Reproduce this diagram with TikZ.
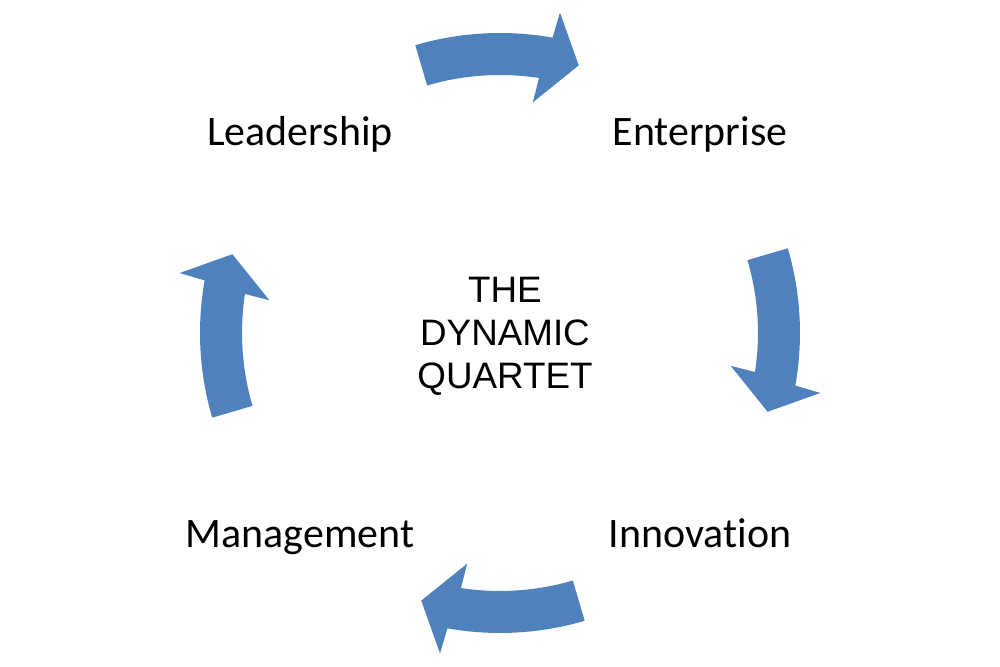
\documentclass[tikz,border=0pt]{standalone}
\usepackage{fontspec}
\setmainfont{Carlito}[Ligatures=NoCommon]
\newfontfamily\arialfont{Liberation Sans}
\usetikzlibrary{positioning}
\definecolor{quartetBlue}{HTML}{4F81BD}

\begin{document}
\begin{tikzpicture}[x=0.015cm,y=0.015cm,
  stagelabel/.style={anchor=base,font=\fontsize{17.9}{21}\selectfont}]
\useasboundingbox (-500,-334) rectangle (500,333);
\newcommand{\cyclearrow}[1]{%
  \fill[quartetBlue] (#1+16.4:300) arc[start angle=#1+16.4,end angle=#1-10.1,radius=300]
    -- (#1-10.6:326) -- (#1-16.4:279) -- (#1-8.1:233) -- (#1-8.7:258)
    arc[start angle=#1-8.7,end angle=#1+16.4,radius=258] -- cycle;
}
\cyclearrow{90}
\cyclearrow{0}
\cyclearrow{-90}
\cyclearrow{180}
\node[stagelabel] (leadership) at (-200,187) {Leadership};
\node[stagelabel] (enterprise) at (200,187) {Enterprise};
\node[stagelabel] (innovation) at (200,-215) {Innovation};
\node[stagelabel] (management) at (-200,-215) {Management};
\node[align=center,font=\arialfont\fontsize{15.7}{18.4}\selectfont] (title) at (5,-3) {THE\\DYNAMIC\\QUARTET};
\end{tikzpicture}
\end{document}
